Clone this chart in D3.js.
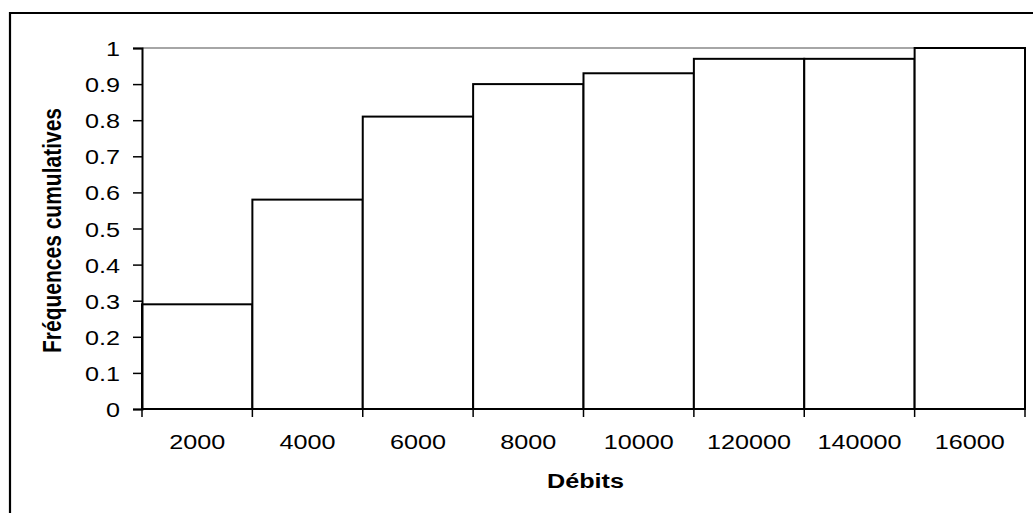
<!DOCTYPE html>
<html>
<head>
<meta charset="utf-8">
<script src="https://cdn.jsdelivr.net/npm/d3@7"></script>
<style>
html,body{margin:0;padding:0;background:#fff;}
svg{display:block;}
text{font-family:"Liberation Sans",Arial,sans-serif;fill:#000;}
</style>
</head>
<body>
<svg id="chart" width="1033" height="513"></svg>
<script>
const categories = ["2000","4000","6000","8000","10000","120000","140000","16000"];
const values = [0.29, 0.58, 0.81, 0.90, 0.93, 0.97, 0.97, 1.0];
const yTicks = [0,0.1,0.2,0.3,0.4,0.5,0.6,0.7,0.8,0.9,1];
const xTitle = "Débits";
const yTitle = "Fréquences cumulatives";

const svg = d3.select("#chart");
const m = {left:142, right:1025, top:48, bottom:409};
const sx = 1.2; // horizontal text stretch of the original

const x = d3.scaleBand().domain(categories).range([m.left, m.right]).padding(0);
const y = d3.scaleLinear().domain([0,1]).range([m.bottom, m.top]);

// outer frame (cut off at right and bottom)
svg.append("path")
  .attr("d", `M10,520 L10,13 L1040,13`)
  .attr("fill","none").attr("stroke","#000").attr("stroke-width",2.2);

// plot area top border (gray)
svg.append("line")
  .attr("x1", m.left).attr("x2", m.right).attr("y1", m.top).attr("y2", m.top)
  .attr("stroke","#888").attr("stroke-width",1.5);

// bars
svg.append("g").selectAll("rect").data(values).join("rect")
  .attr("x",(d,i)=>x(categories[i]))
  .attr("y",d=>y(d))
  .attr("width",x.bandwidth())
  .attr("height",d=>y(0)-y(d))
  .attr("fill","#fff").attr("stroke","#000").attr("stroke-width",2);

// y axis
const yAxis = svg.append("g").attr("transform",`translate(${m.left},0)`)
  .call(d3.axisLeft(y).tickValues(yTicks).tickSize(9).tickPadding(0).tickFormat(d=>d3.format("")(+d.toFixed(1))));
yAxis.select(".domain").attr("stroke","#000").attr("stroke-width",2);
yAxis.selectAll(".tick line").attr("stroke","#000").attr("stroke-width",1.5);
yAxis.selectAll(".tick text").remove();
yAxis.selectAll(".tick").append("text")
  .attr("transform",`translate(-22,0) scale(${sx},1)`)
  .attr("text-anchor","end").attr("dy","0.36em")
  .style("font-size","21px")
  .text(d=>String(+d.toFixed(1)));

// x axis
const boundaries = categories.map(c=>x(c)).concat([m.right]);
const xg = svg.append("g");
xg.append("line").attr("x1",m.left).attr("x2",m.right).attr("y1",y(0)).attr("y2",y(0))
  .attr("stroke","#000").attr("stroke-width",2);
xg.selectAll("line.tk").data(boundaries).join("line").attr("class","tk")
  .attr("x1",d=>d).attr("x2",d=>d).attr("y1",y(0)).attr("y2",y(0)+8)
  .attr("stroke","#000").attr("stroke-width",1.5);
xg.selectAll("text").data(categories).join("text")
  .attr("transform",d=>`translate(${x(d)+x.bandwidth()/2},449) scale(${sx},1)`)
  .attr("text-anchor","middle")
  .style("font-size","21px")
  .text(d=>d);

// titles
svg.append("text")
  .attr("transform",`translate(${(m.left+m.right)/2+2},488) scale(${sx},1)`)
  .attr("text-anchor","middle").style("font-size","21px").style("font-weight","bold")
  .text(xTitle);
svg.append("text")
  .attr("transform",`translate(61,${(m.top+m.bottom)/2+2}) scale(${sx},1) rotate(-90)`)
  .attr("text-anchor","middle").style("font-size","21px").style("font-weight","bold")
  .text(yTitle);
</script>
</body>
</html>
